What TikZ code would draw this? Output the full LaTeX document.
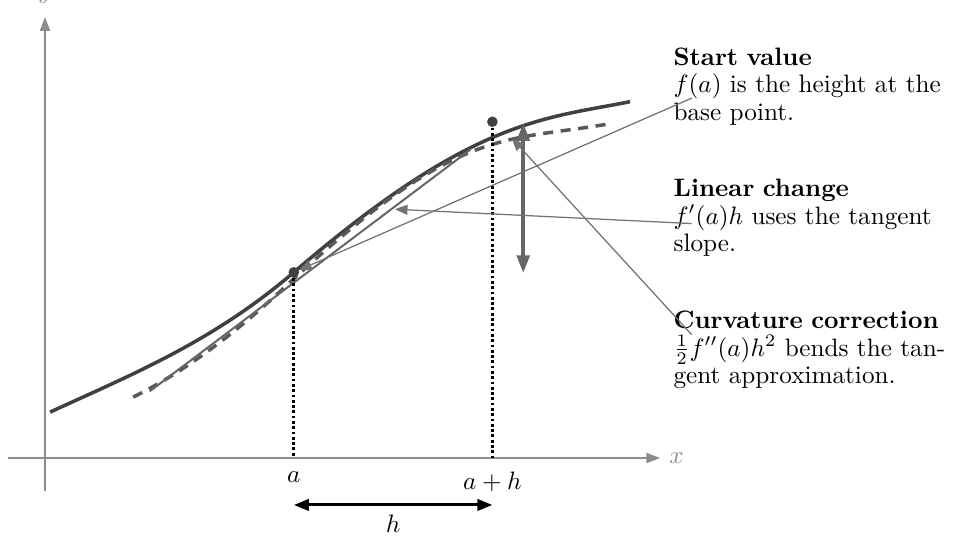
\documentclass[tikz,border=0pt]{standalone}
\usepackage{amsmath}
\usetikzlibrary{arrows.meta}

\begin{document}
\begin{tikzpicture}[>={Triangle[length=5pt,width=4pt]},
  note/.style={anchor=north west,inner sep=0pt,text width=4.2cm,align=left,
               font=\fontsize{10}{11}\selectfont},
  dot/.style={circle,fill=black!75,inner sep=0pt,minimum size=4.2pt},
  leader/.style={->,black!55,line width=0.5pt},
  axis/.style={->,black!45,line width=0.6pt,>={Triangle[length=5.5pt,width=4pt]}}]
  \pgfmathsetmacro{\a}{3.47}\pgfmathsetmacro{\ah}{6.24}
  \pgfmathsetmacro{\fa}{2.59}\pgfmathsetmacro{\fah}{4.69}
  \pgfmathsetmacro{\hy}{-0.655}\pgfmathsetmacro{\tx}{8.76}
  \useasboundingbox (-0.628,-1.144) rectangle (12.748,6.388);

  % ---- axes -------------------------------------------------------------
  \draw[axis] (-0.52,0) -- (8.58,0) node[right,black!45] (xlab) {$x$};
  \draw[axis] (0,-0.46) -- (0,6.15) node[above=1.8pt,black!45] (ylab) {$y$};

  % ---- function, quadratic model and tangent ----------------------------
  \draw[black!75,line width=1.4pt]
        (0.07,0.64) .. controls (1.20,1.16) and (2.34,1.62) .. (\a,\fa)
        .. controls (5.97,4.74) and (6.96,4.73) .. (8.16,4.97);
  \draw[black!65,line width=1.4pt,dash pattern=on 4pt off 3pt]
        (1.23,0.85) .. controls (1.98,1.22) and (2.72,1.79) .. (\a,2.50)
        .. controls (5.82,4.67) and (6.42,4.40) .. (7.92,4.67);
  \draw[black!60,line width=0.8pt] (1.46,0.93) -- (5.93,4.30);

  % ---- base point and step ----------------------------------------------
  \node[dot] (pa)  at (\a,\fa)   {};
  \node[dot] (pah) at (\ah,\fah) {};
  \coordinate (xa)  at (\a,0);
  \coordinate (xah) at (\ah,0);
  \draw[densely dotted,line width=1.1pt] (pa)  -- (xa);
  \draw[densely dotted,line width=1.1pt] (pah) -- (xah);
  \node[below=2pt] (la)  at (xa)  {$a$};
  \node[below=2pt] (lah) at (xah) {$a+h$};

  \coordinate (hl) at (\a,\hy);
  \coordinate (hr) at (\ah,\hy);
  \draw[<->,line width=1.2pt,>={Triangle[length=6pt,width=4.5pt]}] (hl) -- (hr)
        node[midway,below] (hlab) {$h$};

  % the total rise over the step
  \coordinate (vlo) at (6.67,2.58);
  \coordinate (vhi) at (6.67,4.67);
  \draw[<->,black!60,line width=1.5pt,>={Triangle[length=7pt,width=5pt]}] (vlo) -- (vhi);

  % ---- notes on the right -----------------------------------------------
  \node[note] (start) at (\tx,5.73) {\textbf{Start value}\\
        $f(a)$ is the height at the base point.};
  \node[note] (lin)   at (\tx,3.90) {\textbf{Linear change}\\
        $f'(a)h$ uses the tangent slope.};
  \node[note] (curv)  at (\tx,2.06) {\textbf{Curvature correction}\\
        $\frac{1}{2}f''(a)h^2$ bends the tangent approximation.};

  \coordinate (sv) at (9.02,5.02);
  \coordinate (lc) at (9.02,3.27);
  \coordinate (cc) at (9.02,1.72);
  \coordinate (lt) at (4.88,3.47);
  \coordinate (ct) at (6.51,4.46);
  \draw[leader] (sv) -- (pa);
  \draw[leader] (lc) -- (lt);
  \draw[leader] (cc) -- (ct);
\end{tikzpicture}
\end{document}
